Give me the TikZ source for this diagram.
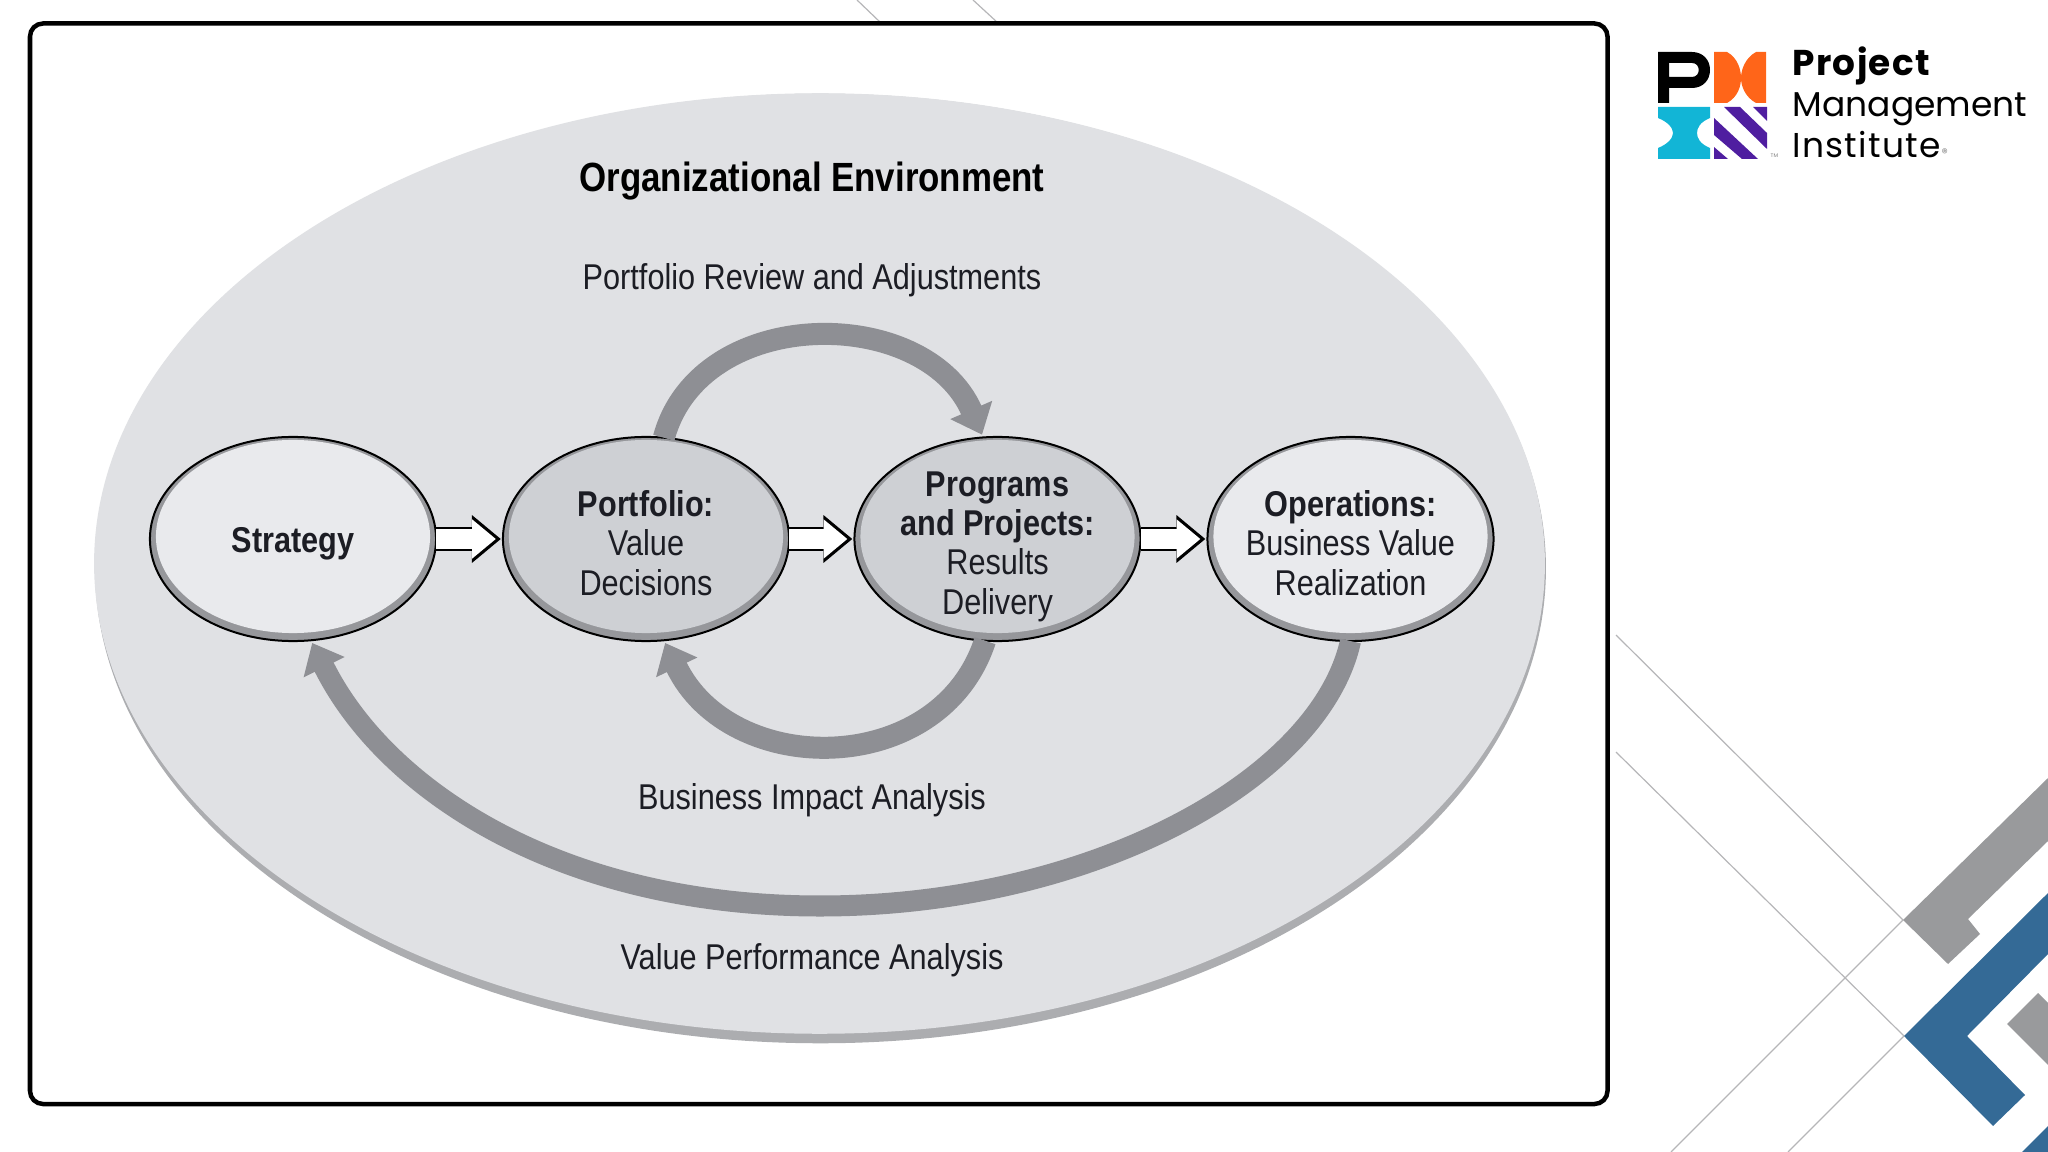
\documentclass[tikz,border=0pt]{standalone}
\usepackage{fontspec}
\setmainfont[FakeStretch=0.855]{Liberation Sans}
\newfontfamily\logofont{Poppins}
\usetikzlibrary{arrows.meta, shapes.geometric}
\definecolor{envfill}{RGB}{224, 225, 228}
\definecolor{envshade}{RGB}{172, 173, 176}
\definecolor{ring}{RGB}{150, 151, 155}
\definecolor{paleface}{RGB}{233, 234, 237}
\definecolor{darkface}{RGB}{206, 208, 212}
\definecolor{flow}{RGB}{142, 143, 148}
\definecolor{ink}{RGB}{28, 29, 36}
\definecolor{hairline}{RGB}{182, 182, 184}
\definecolor{slate}{RGB}{153, 154, 156}
\definecolor{steel}{RGB}{52, 106, 150}
\definecolor{pmiorange}{RGB}{255, 101, 25}
\definecolor{pmicyan}{RGB}{18, 181, 214}
\definecolor{pmipurple}{RGB}{79, 30, 160}

\begin{document}
\begin{tikzpicture}[
    x=0.01cm, y=-0.01cm,
    stage/.style={
        ellipse, draw=black, line width=0.02cm, fill=ring,
        minimum width=2.86cm, minimum height=2.04cm, inner sep=-0.5cm, outer sep=0pt,
        font=\fontsize{10.2}{11.2}\selectfont, text=ink, align=center,
        path picture={\fill[#1] ([yshift=0.025cm]path picture bounding box.center)
            ellipse [x radius=1.37cm, y radius=0.965cm];},
    },
    disc/.style={ellipse, inner sep=0pt, outer sep=0pt, fill=#1},
    blockarrow/.style={
        draw=black, line width=0.24cm, shorten >=0.02cm,
        -{Triangle[length=0.29cm, width=0.46cm]},
        postaction={draw=white, line width=0.20cm, shorten >=0.07cm,
            -{Triangle[length=0.238cm, width=0.377cm]}},
    },
    flowarrow/.style={
        draw=flow, line width=#1, shorten >=0.03cm,
        -{Triangle[length=0.27cm, width=0.44cm]},
    },
    caption/.style={font=\fontsize{10.2}{11.2}\selectfont, text=ink, anchor=base},
    logotext/.style={font=\logofont\fontsize{9.8}{10}\selectfont, text=black,
        anchor=base west, inner sep=0pt},
]
\useasboundingbox (0,0) rectangle (2048,1152);

% --- Slide decoration ---
\draw[hairline, line width=0.012cm] (857,0) -- (881,23);
\draw[hairline, line width=0.012cm] (973,0) -- (998,23);
\draw[hairline, line width=0.012cm] (1616,635) -- (1903,920) -- (1671,1152);
\draw[hairline, line width=0.012cm] (1616,752) -- (1904,1036) -- (1788,1152);
\fill[slate] (1903,920) -- (2048,778) -- (2048,841) -- (1968,919) -- (1980,934) -- (1948,964) -- cycle;
\fill[steel] (1904,1036) -- (2048,893) -- (2048,954) -- (1967,1036) -- (2025,1095) -- (1993,1126) -- cycle;
\fill[slate] (2007,1024) -- (2038,993) -- (2048,1003) -- (2048,1065) -- cycle;
\fill[steel] (2022,1152) -- (2048,1126) -- (2048,1152) -- cycle;

% --- Frame ---
\draw[black, fill=white, line width=0.045cm, rounded corners=0.13cm] (30,23.5) rectangle (1607.5,1104);

% --- Environment ---
\node[disc=envshade, minimum width=14.50cm, minimum height=9.49cm] (envshadow) at (820.5,568.5) {};
\node[disc=envfill, minimum width=14.50cm, minimum height=9.40cm] (environment) at (819.5,563.5) {};

\node[caption, font=\fontsize{11.6}{12}\selectfont\bfseries, text=black] (envtitle) at (812,192)
    {Organizational Environment};
\node[caption] (reviewlabel) at (812,290) {Portfolio Review and Adjustments};
\node[caption] (impactlabel) at (812,809) {Business Impact Analysis};
\node[caption] (valuelabel) at (812,969) {Value Performance Analysis};

% --- Stages ---
\node[stage=paleface, text height=0.34cm] (strategy) at (293,539) {\textbf{Strategy}};
\node[stage=darkface, text height=1.13cm] (portfolio) at (646,539)
    {\textbf{Portfolio:}\\Value\\Decisions};
\node[stage=darkface, text height=1.58cm] (programs) at (997.5,539)
    {\textbf{Programs}\\\textbf{and Projects:}\\Results\\Delivery};
\node[stage=paleface, text height=1.13cm] (operations) at (1350.5,539)
    {\textbf{Operations:}\\Business Value\\Realization};

% --- Block arrows ---
\draw[blockarrow] (strategy.east) -- (portfolio.west);
\draw[blockarrow] (portfolio.east) -- (programs.west);
\draw[blockarrow] (programs.east) -- (operations.west);

% --- Feedback arcs ---
\draw[flowarrow=0.22cm] (portfolio.80) .. controls (700,304) and (925,304) .. (programs.98);
\draw[flowarrow=0.22cm] (programs.-97) .. controls (940,779) and (730,779) .. (portfolio.-80);
\draw[flowarrow=0.21cm] (operations.south) .. controls (1320,780) and (1090,906) .. (820,906)
    .. controls (560,906) and (385,790) .. (strategy.-80);

% --- Logo ---
\fill[black, even odd rule] (1658,52) -- (1692,52) .. controls (1703,52) and (1710,60) .. (1710,70)
    .. controls (1710,80) and (1703,88) .. (1692,88) -- (1669,88) -- (1669,103) -- (1658,103) -- cycle
    (1669,63) -- (1669,77) -- (1692,77) .. controls (1701,77) and (1701,63) .. (1692,63) -- cycle;
\fill[pmiorange] (1714,52) -- (1727,52) .. controls (1738,58) and (1741,70) .. (1741,78)
    .. controls (1741,86) and (1738,97) .. (1727,103) -- (1714,103) -- cycle;
\fill[pmiorange] (1766,52) -- (1756,52) .. controls (1745,58) and (1741,70) .. (1741,78)
    .. controls (1741,86) and (1745,97) .. (1756,103) -- (1766,103) -- cycle;
\fill[pmicyan] (1658,107) -- (1710,107) -- (1710,118) .. controls (1700,122) and (1697,128) .. (1697,133)
    .. controls (1697,138) and (1700,144) .. (1710,148) -- (1710,159) -- (1658,159) -- (1658,148)
    .. controls (1668,144) and (1673,138) .. (1673,133) .. controls (1673,128) and (1668,122) .. (1658,118) -- cycle;
\fill[pmipurple] (1753,107) -- (1767,107) -- (1767,121) -- cycle;
\fill[pmipurple] (1724,107) -- (1740,107) -- (1767,133) -- (1767,149) -- cycle;
\fill[pmipurple] (1714,118) -- (1714,135) -- (1742,159) -- (1758,159) -- cycle;
\fill[pmipurple] (1714,147) -- (1714,159) -- (1728,159) -- cycle;

\node[logotext, font=\logofont\bfseries\fontsize{10.2}{10}\selectfont\addfontfeature{LetterSpace=3.5}] (logoproject) at (1792,76) {Project};
\node[logotext] (logomanagement) at (1792,117) {Management};
\node[logotext, font=\logofont\fontsize{9.8}{10}\selectfont\addfontfeature{LetterSpace=3.5}] (logoinstitute) at (1792,158) {Institute};
\node[logotext, font=\logofont\fontsize{3.5}{4}\selectfont, text=gray] (logoreg) at (1941,158) {®};
\node[logotext, font=\logofont\fontsize{1.5}{2}\selectfont, text=gray] (logotm) at (1770,158) {TM};

\end{tikzpicture}
\end{document}
